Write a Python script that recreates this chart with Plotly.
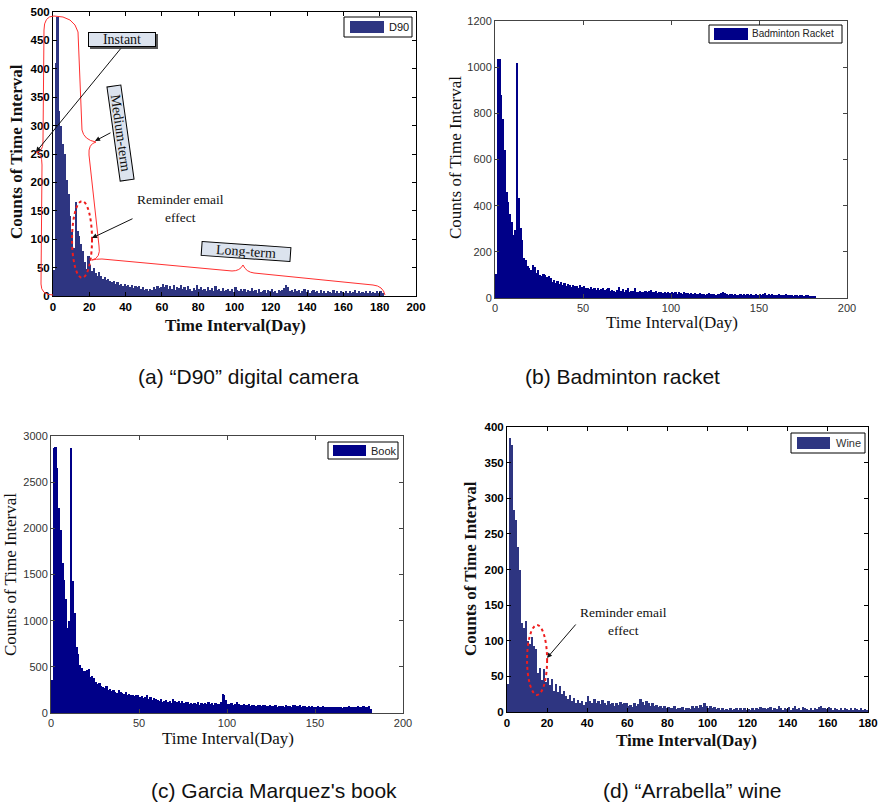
import plotly.graph_objects as go

W, H = 878, 803

# ---------------- data (counts per 1-day interval) ----------------
d90_counts = [
    45, 410, 492, 325, 300, 268, 250, 205, 180, 140,
    112, 85, 165, 115, 105, 92, 80, 60, 48, 70,
    55, 44, 50, 40, 36, 42, 35, 30, 34, 28,
    30, 26, 24, 27, 22, 25, 20, 22, 18, 21,
    17, 19, 16, 20, 14, 17, 15, 18, 13, 16,
    10, 12, 9, 13, 11, 15, 12, 18, 14, 16,
    22, 15, 19, 12, 17, 13, 20, 11, 16, 14,
    19, 12, 15, 10, 17, 13, 9, 14, 11, 20,
    12, 16, 10, 13, 9, 15, 11, 14, 8, 17,
    10, 12, 9, 14, 8, 11, 13, 9, 12, 7,
    15, 10, 8, 12, 9, 13, 7, 11, 9, 14,
    8, 10, 6, 12, 7, 9, 11, 6, 10, 8,
    12, 7, 9, 6, 11, 8, 10, 14, 20, 15,
    9, 11, 7, 13, 8, 10, 6, 9, 12, 7,
    10, 6, 8, 11, 7, 9, 5, 10, 6, 8,
    5, 9, 7, 6, 10, 5, 8, 6, 9, 7,
    5, 8, 6, 9, 5, 7, 10, 6, 8, 5,
    7, 6, 9, 5, 8, 6, 7, 5, 9, 6,
    8, 5,
]

racket_counts = [
    105, 1035, 1035, 880, 775, 640, 460, 415, 365, 330,
    275, 295, 1020, 435, 305, 250, 175, 165, 140, 130,
    120, 145, 135, 110, 120, 100, 95, 105, 100, 90,
    95, 85, 70, 80, 65, 75, 60, 70, 55, 65,
    50, 60, 55, 48, 58, 50, 52, 45, 55, 48,
    52, 42, 45, 40, 48, 38, 44, 36, 42, 35,
    40, 45, 33, 38, 42, 30, 36, 32, 28, 35,
    48, 30, 38, 28, 34, 42, 26, 32, 30, 45,
    28, 25, 30, 24, 28, 32, 26, 30, 35, 28,
    24, 30, 22, 27, 25, 20, 28, 23, 26, 22,
    25, 20, 24, 18, 26, 22, 19, 24, 20, 23,
    18, 22, 17, 21, 19, 16, 20, 17, 19, 15,
    18, 20, 16, 19, 17, 15, 18, 16, 20, 24,
    22, 17, 15, 19, 16, 14, 18, 15, 13, 17,
    15, 18, 14, 16, 13, 17, 15, 12, 16, 14,
    18, 13, 16, 22, 15, 19, 14, 17, 12, 15,
    14, 16, 12, 15, 13, 17, 11, 14, 12, 10,
    13, 11, 9, 14, 12, 10, 13, 11, 8, 10,
    7, 5,
]

book_counts = [
    360, 2870, 2880, 2650, 2220, 1980, 1620, 1440, 1230, 920,
    1000, 2870, 1430, 1080, 720, 640, 520, 490, 460, 450,
    470, 480, 390, 400, 380, 340, 310, 330, 290, 280,
    270, 290, 250, 260, 240, 250, 230, 220, 250, 230,
    220, 210, 230, 200, 210, 190, 200, 180, 190, 200,
    170, 180, 160, 175, 190, 150, 170, 140, 160, 150,
    140, 130, 150, 120, 135, 140, 115, 125, 110, 150,
    130, 120, 125, 110, 130, 105, 115, 120, 100, 110,
    95, 110, 100, 115, 90, 105, 95, 110, 100, 120,
    95, 105, 90, 110, 100, 95, 115, 210, 190, 140,
    100, 95, 105, 90, 100, 115, 95, 90, 85, 95,
    90, 85, 95, 80, 90, 85, 80, 90, 85, 80,
    85, 90, 80, 75, 85, 80, 75, 85, 70, 80,
    75, 80, 70, 85, 75, 80, 70, 85, 90, 80,
    75, 85, 70, 75, 80, 65, 75, 70, 80, 65,
    70, 75, 65, 70, 75, 65, 70, 60, 65, 70,
    60, 65, 70, 60, 65, 55, 60, 70, 65, 80,
    65, 60, 70, 65, 75, 60, 70, 75, 65, 70,
    75, 45,
]

wine_counts = [
    40, 385, 375, 283, 270, 232, 200, 125, 118, 128,
    100, 95, 105, 92, 88, 55, 62, 45, 60, 42,
    48, 38, 46, 30, 40, 28, 36, 25, 30, 22,
    18, 24, 15, 20, 13, 17, 12, 15, 10, 14,
    22, 16, 12, 18, 13, 15, 11, 17, 12, 10,
    15, 11, 13, 9, 12, 10, 14, 11, 12, 13,
    8, 10, 7, 12, 9, 11, 18, 14, 10, 16,
    13, 9, 12, 8, 10, 7, 9, 6, 8, 5,
    7, 5, 6, 8, 4, 6, 5, 7, 3, 5,
    6, 4, 8, 5, 9, 6, 10, 7, 12, 8,
    6, 9, 5, 7, 4, 6, 3, 5, 2, 4,
    3, 5, 2, 4, 6, 3, 5, 2, 6, 3,
    4, 2, 5, 3, 6, 4, 7, 5, 6, 4,
    5, 7, 3, 6, 4, 8, 5, 3, 6, 4,
    7, 3, 5, 8, 4, 6, 3, 7, 5, 4,
    2, 5, 3, 6, 4, 7, 8, 5, 6, 4,
    7, 5, 3, 6, 4, 2, 5, 3, 6, 4,
    3, 5, 2, 6, 4, 3, 5, 2, 4, 3,
]

series_names = ["D90", "Badminton Racket", "Book", "Wine"]
captions = ["(a) \u201cD90\u201d digital camera", "(b) Badminton racket",
            "(c) Garcia Marquez's book", "(d) \u201cArrabella\u201d wine"]
x_ticks_a = [0, 20, 40, 60, 80, 100, 120, 140, 160, 180, 200]
y_ticks_a = [0, 50, 100, 150, 200, 250, 300, 350, 400, 450, 500]
x_ticks_b = [0, 50, 100, 150, 200]
y_ticks_b = [0, 200, 400, 600, 800, 1000, 1200]
x_ticks_c = [0, 50, 100, 150, 200]
y_ticks_c = [0, 500, 1000, 1500, 2000, 2500, 3000]
x_ticks_d = [0, 20, 40, 60, 80, 100, 120, 140, 160, 180]
y_ticks_d = [0, 50, 100, 150, 200, 250, 300, 350, 400]

# ---------------- helpers ----------------
def fx(x):
    return x / W

def fy(y):
    return 1 - y / H

SERIF = "Liberation Serif, Times New Roman, serif"
SANS = "Liberation Sans, Arial, sans-serif"
NARROW = "Liberation Sans Narrow, Arial Narrow, Liberation Sans, Arial, sans-serif"

NAVY_SOFT = "#2e3581"
NAVY = "#000088"

panels = [
    dict(vals=d90_counts, color=NAVY_SOFT, xa="x", ya="y",
         dom_x=(53, 416), dom_y=(12, 296), xr=[0, 200], yr=[0, 500],
         xt=x_ticks_a, yt=y_ticks_a, bold=True, line="#000000", tick_col="#000000"),
    dict(vals=racket_counts, color=NAVY, xa="x2", ya="y2",
         dom_x=(495, 847), dom_y=(21, 298), xr=[0, 200], yr=[0, 1200],
         xt=x_ticks_b, yt=y_ticks_b, bold=False, line="#444444", tick_col="#333333"),
    dict(vals=book_counts, color=NAVY, xa="x3", ya="y3",
         dom_x=(51, 403), dom_y=(436, 713), xr=[0, 200], yr=[0, 3000],
         xt=x_ticks_c, yt=y_ticks_c, bold=False, line="#444444", tick_col="#333333"),
    dict(vals=wine_counts, color=NAVY_SOFT, xa="x4", ya="y4",
         dom_x=(507, 868), dom_y=(427, 712), xr=[0, 180], yr=[0, 400],
         xt=x_ticks_d, yt=y_ticks_d, bold=True, line="#000000", tick_col="#000000"),
]

fig = go.Figure()
layout = dict(width=W, height=H, margin=dict(l=0, r=0, t=0, b=0, autoexpand=False),
              paper_bgcolor="white", plot_bgcolor="white", showlegend=False,
              bargap=0)

for i, p in enumerate(panels):
    days = [d + 0.5 for d in range(len(p["vals"]))]
    fig.add_trace(go.Bar(x=days, y=p["vals"], width=1.25, name=series_names[i],
                         marker=dict(color=p["color"], line=dict(width=0)),
                         xaxis=p["xa"], yaxis=p["ya"], showlegend=False))
    suffix = "" if i == 0 else str(i + 1)
    tfont = dict(family=SANS, size=11.5 if p["bold"] else 11, color=p["tick_col"],
                 weight="bold" if p["bold"] else "normal")
    common = dict(showline=True, linecolor=p["line"], linewidth=1, mirror="ticks",
                  ticks="inside", ticklen=4, tickcolor=p["line"], showgrid=False,
                  zeroline=False, tickfont=tfont, fixedrange=True, automargin=False)
    layout["xaxis" + suffix] = dict(common, domain=[fx(p["dom_x"][0]), fx(p["dom_x"][1])],
                                    range=p["xr"], tickmode="array", tickvals=p["xt"],
                                    anchor="y" + suffix)
    layout["yaxis" + suffix] = dict(common, domain=[fy(p["dom_y"][1]), fy(p["dom_y"][0])],
                                    range=p["yr"], tickmode="array", tickvals=p["yt"],
                                    anchor="x" + suffix)

fig.update_layout(**layout)

annotations = []
shapes = []

# axis titles
axis_titles = [
    # (x, y, text, angle, bold)
    (235, 325, "Time Interval(Day)", 0, True),
    (17, 152, "Counts of Time Interval", -90, True),
    (672, 322, "Time Interval(Day)", 0, False),
    (455, 158, "Counts of Time Interval", -90, False),
    (228, 738, "Time Interval(Day)", 0, False),
    (10, 575, "Counts of Time Interval", -90, False),
    (686, 740, "Time Interval(Day)", 0, True),
    (470, 569, "Counts of Time Interval", -90, True),
]
for x, y, t, ang, b in axis_titles:
    annotations.append(dict(x=fx(x), y=fy(y), xref="paper", yref="paper", text=t,
                            showarrow=False, textangle=ang, xanchor="center", yanchor="middle",
                            font=dict(family=SERIF, size=17, color="#111111",
                                      weight="bold" if b else "normal")))

# captions
cap_pos = [(248, 376), (622, 376), (274, 790), (692, 790)]
for (x, y), t in zip(cap_pos, captions):
    annotations.append(dict(x=fx(x), y=fy(y), xref="paper", yref="paper", text=t,
                            showarrow=False, xanchor="center", yanchor="middle",
                            font=dict(family=NARROW, size=21, color="#111111")))

# legends (MATLAB-style boxes with wide swatch)
legends = [
    # box x0,x1,y0,y1 ; swatch x0,x1,y0,y1 ; text x ; size
    ((344, 412, 17, 37), (350, 384, 21, 33), 387, NAVY_SOFT, "#111111", 11),
    ((709, 842, 25, 43), (714, 748, 28, 40), 750, NAVY, "#222222", 10),
    ((328, 398, 442, 459), (333, 366, 445, 456), 369, NAVY, "#222222", 11),
    ((791, 865, 433, 453), (797, 830, 437, 449), 834, NAVY_SOFT, "#333333", 11),
]
for i, (box, sw, tx, col, tcol, fs) in enumerate(legends):
    shapes.append(dict(type="rect", xref="paper", yref="paper",
                       x0=fx(box[0]), x1=fx(box[1]), y0=fy(box[3]), y1=fy(box[2]),
                       line=dict(color="#000000", width=1), fillcolor="white", layer="above"))
    shapes.append(dict(type="rect", xref="paper", yref="paper",
                       x0=fx(sw[0]), x1=fx(sw[1]), y0=fy(sw[3]), y1=fy(sw[2]),
                       line=dict(width=0), fillcolor=col, layer="above"))
    annotations.append(dict(x=fx(tx), y=fy((box[2] + box[3]) / 2), xref="paper", yref="paper",
                            text=series_names[i], showarrow=False, xanchor="left",
                            yanchor="middle", font=dict(family=SANS, size=fs, color=tcol)))

# red braces in panel (a)
def path(cmds):
    out = []
    for cmd in cmds:
        c = cmd[0]
        coords = cmd[1:]
        pairs = []
        for j in range(0, len(coords), 2):
            pairs.append(f"{fx(coords[j]):.5f},{fy(coords[j+1]):.5f}")
        out.append(c + " " + " ".join(pairs))
    return " ".join(out)

brace_instant = path([("M", 54, 16), ("Q", 44, 16, 44, 30), ("L", 43, 142),
                      ("Q", 43, 152, 36, 152), ("Q", 42, 153, 42, 165),
                      ("L", 41, 284), ("Q", 41, 295, 53, 295)])
brace_medium = path([("M", 54, 16), ("Q", 74, 16, 78, 32), ("L", 82, 130),
                     ("Q", 84, 140, 96, 142), ("Q", 88, 144, 89, 155),
                     ("L", 99, 246), ("Q", 101, 258, 92, 260)])
brace_long = path([("M", 92, 260), ("Q", 96, 259, 102, 259), ("L", 232, 271),
                   ("Q", 240, 271, 243, 265), ("Q", 246, 272, 254, 273),
                   ("L", 373, 285), ("Q", 383, 286, 385, 295)])
for pth in (brace_instant, brace_medium, brace_long):
    shapes.append(dict(type="path", xref="paper", yref="paper", path=pth,
                       line=dict(color="#ff3030", width=1), layer="above"))

# dashed ellipses (reminder email effect)
shapes.append(dict(type="circle", xref="x", yref="y", x0=10.5, x1=21.5, y0=32, y1=167,
                   line=dict(color="#ee1c1c", width=2, dash="dot"), layer="above"))
shapes.append(dict(type="circle", xref="x4", yref="y4", x0=10, x1=20, y0=24, y1=122,
                   line=dict(color="#ee1c1c", width=2, dash="dot"), layer="above"))

# labelled boxes (drop shadow + box)
for (x0, y0, x1, y1) in [(90, 34, 158, 49)]:
    shapes.append(dict(type="rect", xref="paper", yref="paper",
                       x0=fx(x0), x1=fx(x1), y0=fy(y1), y1=fy(y0),
                       line=dict(width=0), fillcolor="#555555", layer="above"))
box_style = dict(xref="paper", yref="paper", showarrow=False, bgcolor="#dce3ee",
                 bordercolor="#000000", borderwidth=1, borderpad=0,
                 xanchor="center", yanchor="middle",
                 font=dict(family=SERIF, size=14, color="#111111"))
annotations.append(dict(box_style, x=fx(122), y=fy(39.5), text="Instant", width=66, height=13))
annotations.append(dict(box_style, x=fx(121), y=fy(133), text="Medium-term", textangle=82,
                        width=94, height=13))
annotations.append(dict(box_style, x=fx(246), y=fy(252), text="Long-term", textangle=4,
                        width=88, height=13))

# reminder texts
annotations.append(dict(x=fx(180), y=fy(209), xref="paper", yref="paper",
                        text="Reminder email<br>effect", showarrow=False,
                        xanchor="center", yanchor="middle",
                        font=dict(family=SERIF, size=13.5, color="#111111")))
annotations.append(dict(x=fx(623), y=fy(621), xref="paper", yref="paper",
                        text="Reminder email<br>effect", showarrow=False,
                        xanchor="center", yanchor="middle",
                        font=dict(family=SERIF, size=13.5, color="#111111")))

# arrows (head, tail) in pixels
arrows = [((36, 152), (122, 47)), ((95, 141), (112, 132)),
          ((92, 238), (134, 218)), ((547, 658), (577, 623))]
for (hx, hy), (tx, ty) in arrows:
    annotations.append(dict(x=fx(hx), y=fy(hy), xref="paper", yref="paper", text="",
                            showarrow=True, ax=tx - hx, ay=ty - hy, arrowhead=2,
                            arrowsize=1, arrowwidth=1, arrowcolor="#111111", standoff=0))

fig.update_layout(annotations=annotations, shapes=shapes)
fig.write_html("out.html", config={"displayModeBar": False},
               post_script="document.body.style.margin='0px';"
                           "document.body.style.padding='0px';"
                           "document.body.style.overflow='hidden';")
